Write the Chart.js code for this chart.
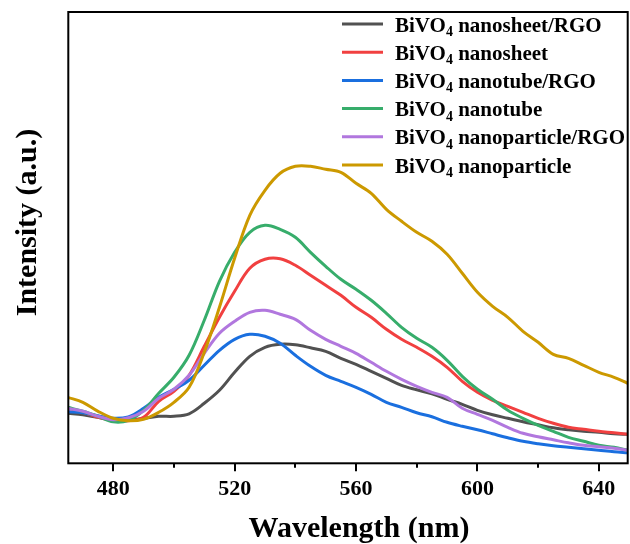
<!DOCTYPE html>
<html><head><meta charset="utf-8">
<script src="https://cdn.jsdelivr.net/npm/chart.js@4.4.1/dist/chart.umd.min.js"></script>
<style>html,body{margin:0;padding:0;background:#fff;}#wrap{width:630px;height:544px;}</style>
</head><body><div id="wrap"><canvas id="c" width="630" height="544"></canvas></div>
<script>
const wavelengths = [465,470,475,480,485,490,495,500,505,510,515,520,525,530,535,540,545,550,555,560,565,570,575,580,585,590,595,600,605,610,615,620,625,630,635,640,645,649.5];
const nanosheetRGO = [50,48.5,46,43.5,43.5,45,47,47,49.5,60,73,91,107,116,119,118.5,115.5,112,105,99,92,85,78,73.5,69.5,64,59,53,48.5,45,41.5,38.5,35.5,33.5,32,31,29.5,29];
const nanosheet = [55,51,46,43,42.5,46,62,72,88,117,146,172,195,204,204.5,198,188,178,168,156,146,134,124,116,107,96,82,71,63,57,51,45,40,36,34,32,30.5,29];
const nanotubeRGO = [51.5,50.5,47.5,45,46.5,55,66,74,83,98,113,124,129,127,120,108,97,88,82,76,69,61,56,50.5,46.5,41,37,33.5,29.5,25.5,22,19.5,17.5,16,14.5,13,11.5,10.5];
const nanotube = [56,52,47,41.5,43,53,70,86,108,143,182,211,231,238,234,226,211,197,184,174,163,150,136,125,116,103,87,74,64,53,45,38,32,26,22,18,16,13];
const nanoparticleRGO = [55,52,47,43.5,45.5,52,65,74,88,110,130,142,151,153,149,144,133,124,117,110,101,92,84,77,71,66,55,49,43,36,30,26.5,23.5,20.5,18,16.5,15,13];
const nanoparticle = [66,61,52,45,42.5,44,51,61,76,111,156,205,248,273,290,297,297,294,291,280,270,254,242,231,222,209,190,171,157,146,132,121,109,105,98,91,86,80];

const seriesNames = ['nanosheet/RGO','nanosheet','nanotube/RGO','nanotube','nanoparticle/RGO','nanoparticle'];
const seriesValues = [nanosheetRGO, nanosheet, nanotubeRGO, nanotube, nanoparticleRGO, nanoparticle];
const seriesColors = ['#515151','#F14040','#1A6FDF','#37AD6B','#B177DE','#CC9900'];
const minorTicks = [500,540,580,620];
const xTitle = 'Wavelength (nm)';
const yTitle = 'Intensity (a.u.)';

const FONT = "'Liberation Serif','Times New Roman',serif";

const datasets = seriesValues.map((vals, i) => ({
  label: 'BiVO\u2084 ' + seriesNames[i],
  data: wavelengths.map((w, j) => ({x: w, y: vals[j]})),
  borderColor: seriesColors[i],
  backgroundColor: seriesColors[i],
  borderWidth: 3,
  pointRadius: 0,
  tension: 0.35,
  fill: false,
  order: seriesValues.length - i
}));

const decor = {
  id: 'decor',
  afterDraw(chart) {
    const {ctx, chartArea: a, scales: {x}} = chart;
    ctx.save();
    // frame
    ctx.strokeStyle = '#000';
    ctx.lineWidth = 2;
    ctx.strokeRect(a.left, a.top, a.right - a.left, a.bottom - a.top);
    // ticks
    ctx.lineWidth = 2;
    x.ticks.forEach(t => {
      const px = Math.round(x.getPixelForValue(t.value)) + 0.0;
      ctx.beginPath(); ctx.moveTo(px, a.bottom); ctx.lineTo(px, a.bottom + 8); ctx.stroke();
    });
    minorTicks.forEach(v => {
      const px = Math.round(x.getPixelForValue(v));
      ctx.beginPath(); ctx.moveTo(px, a.bottom); ctx.lineTo(px, a.bottom + 4.5); ctx.stroke();
    });
    // axis titles
    ctx.fillStyle = '#000';
    ctx.font = 'bold 30px ' + FONT;
    ctx.textAlign = 'center';
    ctx.textBaseline = 'alphabetic';
    ctx.fillText(xTitle, 359, 536.5);
    ctx.save();
    ctx.translate(28.5, 222.5);
    ctx.rotate(-Math.PI / 2);
    ctx.textBaseline = 'middle';
    ctx.fillText(yTitle, 0, 0);
    ctx.restore();
    // legend
    ctx.textAlign = 'left';
    ctx.textBaseline = 'alphabetic';
    seriesNames.forEach((name, i) => {
      const y = 24 + i * 28.2;
      ctx.strokeStyle = seriesColors[i];
      ctx.lineWidth = 3;
      ctx.beginPath(); ctx.moveTo(342, y); ctx.lineTo(383, y); ctx.stroke();
      let tx = 395;
      ctx.font = 'bold 21px ' + FONT;
      ctx.fillText('BiVO', tx, y + 7.5);
      tx += ctx.measureText('BiVO').width;
      ctx.font = 'bold 14px ' + FONT;
      ctx.fillText('4', tx, y + 12);
      tx += ctx.measureText('4').width;
      ctx.font = 'bold 21px ' + FONT;
      ctx.fillText(' ' + name, tx, y + 7.5);
    });
    ctx.restore();
  }
};

new Chart(document.getElementById('c'), {
  type: 'line',
  data: { datasets },
  options: {
    responsive: false,
    animation: false,
    devicePixelRatio: 1,
    layout: { padding: { left: 68.3, top: 12, right: 2.3, bottom: 0 } },
    plugins: { legend: { display: false }, tooltip: { enabled: false } },
    scales: {
      x: {
        type: 'linear',
        min: 465.2,
        max: 649.5,
        grid: { display: false, drawTicks: false },
        border: { display: false },
        ticks: {
          stepSize: 40,
          includeBounds: false,
          color: '#000',
          padding: 13,
          font: { family: FONT, size: 22, weight: 'bold' },
          maxRotation: 0,
          autoSkip: false
        },
        afterFit(s) { s.height = 80.7; }
      },
      y: {
        display: false,
        min: 0,
        max: 451.3
      }
    }
  },
  plugins: [decor]
});
</script>
</body></html>
